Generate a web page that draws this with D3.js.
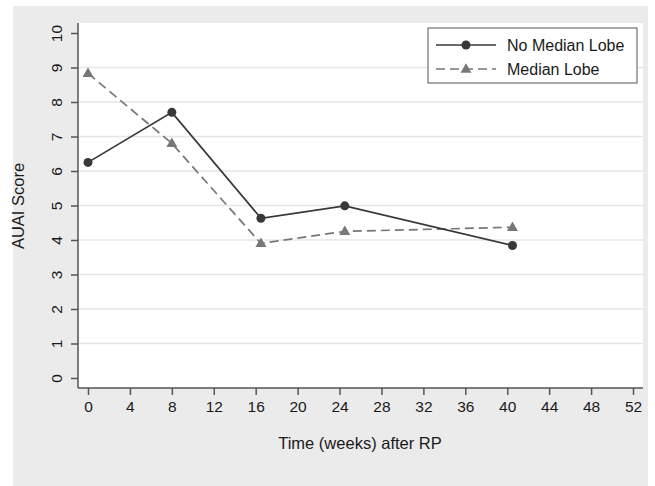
<!DOCTYPE html>
<html>
<head>
<meta charset="utf-8">
<script src="https://cdn.jsdelivr.net/npm/d3@7"></script>
<style>
  body { margin: 0; background: #fff; }
  text { font-family: "Liberation Sans", Arial, sans-serif; fill: #1a1a1a; }
</style>
</head>
<body>
<script>
// data
var weeks = [0, 8, 16.5, 24.5, 40.5];
var noMedianLobe = [6.25, 7.7, 4.63, 4.99, 3.84];
var medianLobe = [8.83, 6.8, 3.9, 4.25, 4.37];
var xTicks = d3.range(0, 53, 4);
var yTicks = d3.range(0, 11, 1);
var seriesNames = ["No Median Lobe", "Median Lobe"];

var W = 655, H = 486;
var svg = d3.select("body").append("svg").attr("width", W).attr("height", H);

// outer grey panel
svg.append("rect").attr("x", 13).attr("y", 6).attr("width", 635).attr("height", 480).attr("fill", "#ebebeb");

var plot = { left: 78, right: 643, top: 23, bottom: 388 };
svg.append("rect")
  .attr("x", plot.left).attr("y", plot.top)
  .attr("width", plot.right - plot.left).attr("height", plot.bottom - plot.top)
  .attr("fill", "#fff");

var x = d3.scaleLinear().domain([0, 52]).range([88, 633]);
var y = d3.scaleLinear().domain([0, 10]).range([378, 33]);

// grid lines
svg.append("g").selectAll("line")
  .data(yTicks.filter(function(d) { return d > 0 && d < 10; }))
  .join("line")
  .attr("x1", plot.left).attr("x2", plot.right)
  .attr("y1", function(d) { return y(d); }).attr("y2", function(d) { return y(d); })
  .attr("stroke", "#e6e6e6").attr("stroke-width", 1.5);

// axes
var xAxis = svg.append("g").attr("transform", "translate(0," + plot.bottom + ")")
  .call(d3.axisBottom(x).tickValues(xTicks).tickSize(7).tickPadding(6));
xAxis.select(".domain").attr("d", "M" + plot.left + ",0H" + plot.right);
xAxis.selectAll("text").style("font-size", "15.5px").attr("fill", "#1a1a1a");

var yAxis = svg.append("g").attr("transform", "translate(" + plot.left + ",0)")
  .call(d3.axisLeft(y).tickValues(yTicks).tickSize(7).tickPadding(0));
yAxis.select(".domain").attr("d", "M0," + plot.top + "V" + plot.bottom);
yAxis.selectAll(".tick text")
  .attr("x", -22).attr("dy", 0)
  .attr("transform", "rotate(-90,-22,0)")
  .attr("text-anchor", "middle").attr("dominant-baseline", "central")
  .style("font-size", "15.5px").attr("fill", "#1a1a1a");
svg.selectAll(".domain, .tick line").attr("stroke", "#555").attr("stroke-width", 1.5);

// axis titles
svg.append("text").attr("x", 360).attr("y", 449).attr("text-anchor", "middle")
  .style("font-size", "16.5px").text("Time (weeks) after RP");
svg.append("text").attr("transform", "translate(23.5,206) rotate(-90)")
  .attr("text-anchor", "middle").style("font-size", "16.5px").text("AUAI Score");

var line = d3.line().x(function(d) { return x(d[0]); }).y(function(d) { return y(d[1]); });
var tri = d3.symbol().type(d3.symbolTriangle).size(52);

function drawSeries(vals, color, dash, marker) {
  var pts = weeks.map(function(w, i) { return [w, vals[i]]; });
  svg.append("path").datum(pts).attr("d", line)
    .attr("fill", "none").attr("stroke", color).attr("stroke-width", 1.7)
    .attr("stroke-dasharray", dash);
  if (marker === "circle") {
    svg.append("g").selectAll("circle").data(pts).join("circle")
      .attr("cx", function(d) { return x(d[0]); }).attr("cy", function(d) { return y(d[1]); })
      .attr("r", 4.5).attr("fill", color);
  } else {
    svg.append("g").selectAll("path").data(pts).join("path")
      .attr("d", tri)
      .attr("transform", function(d) { return "translate(" + x(d[0]) + "," + (y(d[1]) + 0.5) + ")"; })
      .attr("fill", color);
  }
}
drawSeries(medianLobe, "#777", "9,5", "triangle");
drawSeries(noMedianLobe, "#383838", null, "circle");

// legend
var lg = svg.append("g");
lg.append("rect").attr("x", 428).attr("y", 28).attr("width", 209).attr("height", 55)
  .attr("fill", "#fff").attr("stroke", "#555").attr("stroke-width", 1);
var rows = [
  { name: seriesNames[0], color: "#383838", dash: null, marker: "circle", y: 45 },
  { name: seriesNames[1], color: "#777", dash: "9,5", marker: "triangle", y: 69 }
];
rows.forEach(function(r) {
  lg.append("line").attr("x1", 436).attr("x2", 496).attr("y1", r.y).attr("y2", r.y)
    .attr("stroke", r.color).attr("stroke-width", 1.7).attr("stroke-dasharray", r.dash);
  if (r.marker === "circle") {
    lg.append("circle").attr("cx", 466).attr("cy", r.y).attr("r", 4.5).attr("fill", r.color);
  } else {
    lg.append("path").attr("d", tri).attr("transform", "translate(466," + (r.y + 0.5) + ")").attr("fill", r.color);
  }
  lg.append("text").attr("x", 507).attr("y", r.y).attr("dominant-baseline", "central")
    .style("font-size", "16px").text(r.name);
});
</script>
</body>
</html>
